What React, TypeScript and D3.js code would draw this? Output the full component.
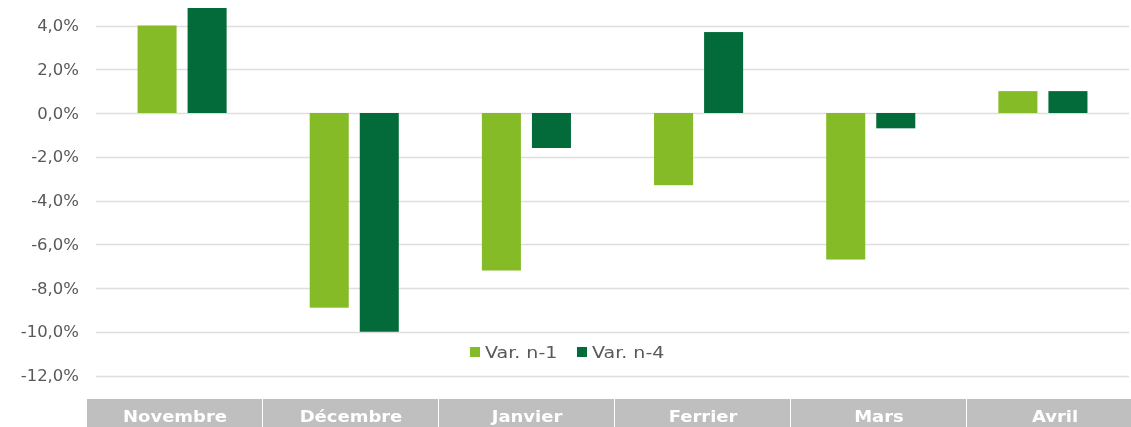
import React, { useRef, useEffect } from "react";
import * as d3 from "d3";

const months = ["Novembre", "Décembre", "Janvier", "Ferrier", "Mars", "Avril"];
const series = ["Var. n-1", "Var. n-4"];
const varN1 = [4.0, -8.9, -7.2, -3.3, -6.7, 1.0];
const varN4 = [4.8, -10.0, -1.6, 3.7, -0.7, 1.0];
const yTicks = [4, 2, 0, -2, -4, -6, -8, -10, -12];
const colors = ["#85bb27", "#036b3a"];

const W = 1131;
const H = 427;
// the picture is stretched horizontally
const SX_TICK = 1.1;
const SX_LEG = 1.27;
const SX_CAT = 1.2;

const App = () => {
  const ref = useRef<SVGSVGElement>(null);

  useEffect(() => {
    const svg = d3.select(ref.current);
    svg.selectAll("*").remove();
    svg.attr("width", W).attr("height", H);

    const font = "'DejaVu Sans', Verdana, sans-serif";
    const locale = d3.formatLocale({
      decimal: ",",
      thousands: " ",
      grouping: [3],
      currency: ["", " €"],
      minus: "-",
    });
    const fmt = locale.format(".1f");

    const y = d3.scaleLinear().domain([-12, 4]).range([375.5, 25.5]);
    const x0 = d3.scaleBand().domain(months).range([96, 1129]);
    const x1 = d3
      .scaleBand()
      .domain(series)
      .range([0, x0.bandwidth()])
      .paddingInner(0.22)
      .paddingOuter(0.83);

    // grid
    svg
      .append("g")
      .selectAll("line")
      .data(yTicks)
      .enter()
      .append("line")
      .attr("x1", 96)
      .attr("x2", 1129)
      .attr("y1", (d) => Math.round(y(d)) + 0.5)
      .attr("y2", (d) => Math.round(y(d)) + 0.5)
      .attr("stroke", "#dedede")
      .attr("stroke-width", 1.3);

    // tick labels
    svg
      .append("g")
      .selectAll("text")
      .data(yTicks)
      .enter()
      .append("text")
      .attr("transform", (d) => `translate(79,${y(d) + 5.5}) scale(${SX_TICK},1)`)
      .attr("text-anchor", "end")
      .attr("fill", "#595959")
      .style("font-family", font)
      .style("font-size", "15px")
      .text((d) => fmt(d) + "%");

    // bars
    const data = months.map((m, i) => ({ m, vals: [varN1[i], varN4[i]] }));
    const groups = svg
      .append("g")
      .selectAll("g")
      .data(data)
      .enter()
      .append("g")
      .attr("transform", (d) => `translate(${x0(d.m)},0)`);

    groups
      .selectAll("rect")
      .data((d) => d.vals.map((v, j) => ({ s: series[j], v, j })))
      .enter()
      .append("rect")
      .attr("x", (d) => x1(d.s)!)
      .attr("width", x1.bandwidth())
      .attr("y", (d) => y(Math.max(0, d.v)))
      .attr("height", (d) => Math.abs(y(d.v) - y(0)))
      .attr("fill", (d) => colors[d.j]);

    // legend
    const legendItems = [
      { s: series[0], x: 470, c: colors[0] },
      { s: series[1], x: 577, c: colors[1] },
    ];
    const lg = svg.append("g");
    lg.selectAll("rect")
      .data(legendItems)
      .enter()
      .append("rect")
      .attr("x", (d) => d.x)
      .attr("y", 347)
      .attr("width", 10)
      .attr("height", 10)
      .attr("fill", (d) => d.c);
    lg.selectAll("text")
      .data(legendItems)
      .enter()
      .append("text")
      .attr("transform", (d) => `translate(${d.x + 15},358) scale(${SX_LEG},1)`)
      .attr("fill", "#595959")
      .style("font-family", font)
      .style("font-size", "15px")
      .text((d) => d.s);

    // category table band
    const xt = d3.scaleBand().domain(months).range([87, 87 + 176 * 6]);
    const band = svg.append("g");
    band
      .selectAll("rect")
      .data(months)
      .enter()
      .append("rect")
      .attr("x", (d) => xt(d)!)
      .attr("y", 399)
      .attr("width", xt.bandwidth() - 1)
      .attr("height", 28)
      .attr("fill", "#bfbfbf");
    band
      .selectAll("text")
      .data(months)
      .enter()
      .append("text")
      .attr(
        "transform",
        (d) => `translate(${xt(d)! + xt.bandwidth() / 2},422) scale(${SX_CAT},1)`
      )
      .attr("text-anchor", "middle")
      .attr("fill", "#ffffff")
      .style("font-family", font)
      .style("font-size", "15px")
      .style("font-weight", "bold")
      .text((d) => d);
  }, []);

  return (
    <div style={{ position: "fixed", left: 0, top: 0 }}>
      <svg ref={ref} style={{ display: "block" }}></svg>
    </div>
  );
};

export default App;
